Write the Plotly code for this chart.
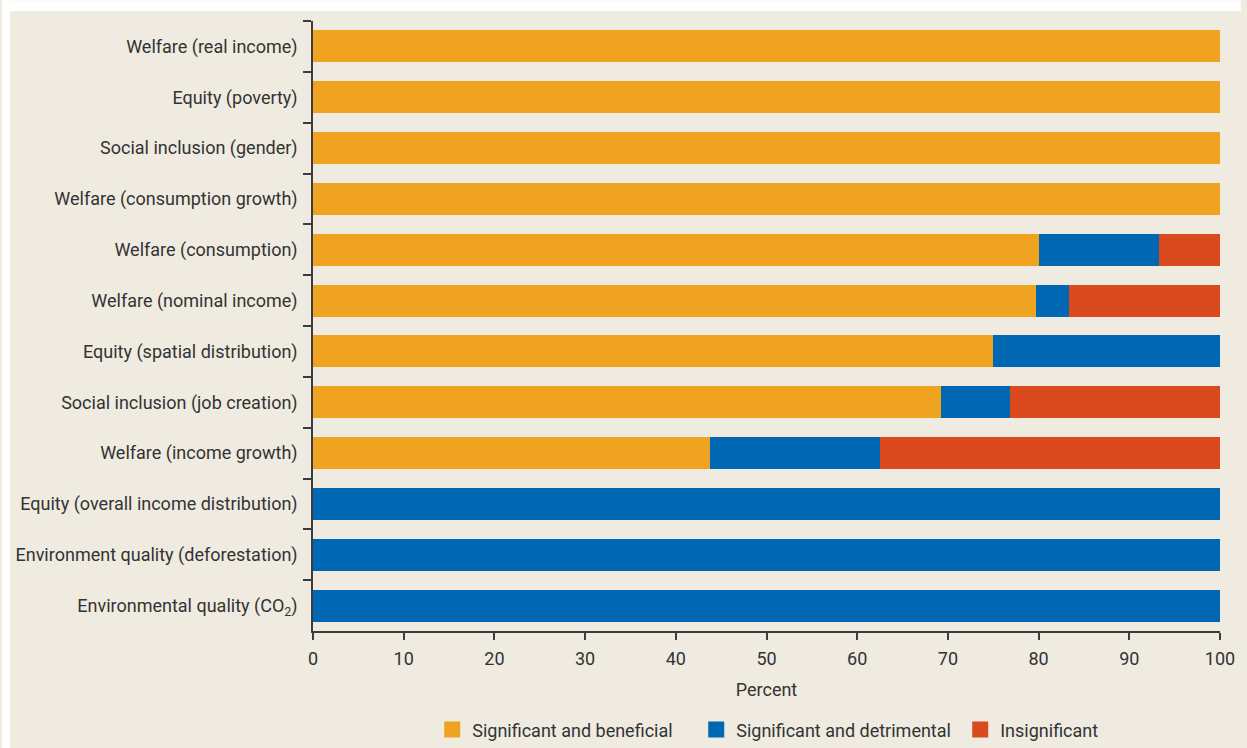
import plotly.graph_objects as go

categories = [
    "Welfare (real income)",
    "Equity (poverty)",
    "Social inclusion (gender)",
    "Welfare (consumption growth)",
    "Welfare (consumption)",
    "Welfare (nominal income)",
    "Equity (spatial distribution)",
    "Social inclusion (job creation)",
    "Welfare (income growth)",
    "Equity (overall income distribution)",
    "Environment quality (deforestation)",
    "Environmental quality (CO<sub>2</sub>)",
]
beneficial = [100, 100, 100, 100, 80.0, 79.7, 75.0, 69.2, 43.75, 0, 0, 0]
detrimental = [0, 0, 0, 0, 13.3, 3.6, 25.0, 7.7, 18.75, 100, 100, 100]
insignificant = [0, 0, 0, 0, 6.7, 16.7, 0, 23.1, 37.5, 0, 0, 0]
x_ticks = [0, 10, 20, 30, 40, 50, 60, 70, 80, 90, 100]

series = [
    ("Significant and beneficial", beneficial, "#F0A320"),
    ("Significant and detrimental", detrimental, "#0067B3"),
    ("Insignificant", insignificant, "#DB4A1F"),
]

FONT = "Roboto, Liberation Sans, sans-serif"
TXT = "#333333"
AX = "#3c3c3c"
BG = "#EFEBE1"
FS = 18

fig = go.Figure()
for name, vals, col in series:
    fig.add_trace(go.Bar(
        y=categories, x=vals, name=name, orientation="h",
        marker=dict(color=col, line=dict(width=0)),
        showlegend=False,
    ))
# legend entries with larger square swatches
for name, vals, col in series:
    fig.add_trace(go.Scatter(
        x=[None], y=[None], mode="markers", name=name,
        marker=dict(symbol="square", size=17, color=col),
        showlegend=True, hoverinfo="skip",
    ))

W, H = 1247, 760
L, R, T, B = 313, 21, 21, 120
pw, ph = W - L - R, H - T - B

fig.update_layout(
    width=W, height=H,
    barmode="stack",
    bargap=0.37,
    paper_bgcolor=BG,
    plot_bgcolor=BG,
    margin=dict(l=L, r=R, t=T, b=B, pad=0),
    font=dict(family=FONT, size=FS, color=TXT),
    showlegend=True,
    legend=dict(
        orientation="h", x=(433 - L) / pw, xanchor="left", y=-(B - 1) / ph,
        yanchor="bottom", font=dict(size=FS, color=TXT), bgcolor="rgba(0,0,0,0)",
        traceorder="normal", entrywidth=219, entrywidthmode="pixels",
        itemsizing="trace",
    ),
    shapes=[
        dict(type="rect", xref="paper", yref="paper", layer="below",
             x0=-L / pw, x1=(8 - L) / pw, y0=-B / ph, y1=1 + T / ph,
             fillcolor="white", line=dict(width=0)),
        dict(type="rect", xref="paper", yref="paper", layer="below",
             x0=-L / pw, x1=(W - L) / pw, y0=1 + (T - 11) / ph, y1=1 + T / ph,
             fillcolor="white", line=dict(width=0)),
    ],
)
fig.update_xaxes(
    range=[0, 100], tickvals=x_ticks,
    showgrid=False, zeroline=False,
    showline=True, linecolor=AX, linewidth=1.5,
    ticks="outside", ticklen=7, tickcolor=AX, tickwidth=1.5,
    tickfont=dict(size=FS, color=TXT),
    ticklabelstandoff=4,
    title=dict(text="Percent", font=dict(size=FS, color=TXT), standoff=15),
)
fig.update_yaxes(
    categoryorder="array", categoryarray=categories, autorange="reversed",
    showgrid=False, zeroline=False,
    showline=True, linecolor=AX, linewidth=1.5,
    ticks="outside", ticklen=8, tickcolor=AX, tickwidth=1.5,
    tickson="boundaries",
    tickfont=dict(size=FS, color=TXT),
    ticklabelstandoff=10,
)

fig.write_html(
    "out.html",
    config={"displayModeBar": False},
    post_script="document.body.style.margin='0';document.body.style.background='#EFEBE1';",
)
